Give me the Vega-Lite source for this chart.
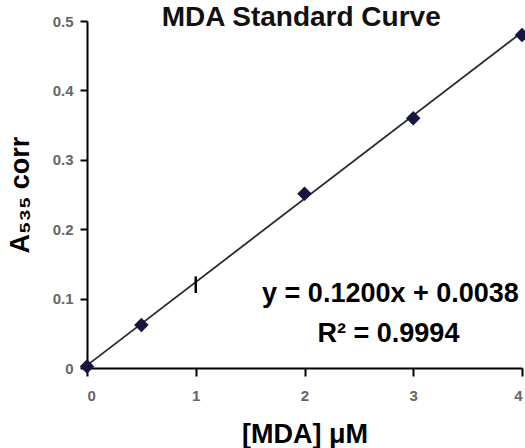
{
  "$schema": "https://vega.github.io/schema/vega-lite/v6.json",
  "autosize": "none",
  "width": 435,
  "height": 347,
  "padding": {"left": 87, "top": 21, "right": 3, "bottom": 80},
  "background": "white",
  "config": {
    "view": {"stroke": null},
    "font": "Liberation Sans",
    "axis": {
      "grid": false,
      "domainColor": "#000000",
      "domainWidth": 2,
      "tickColor": "#000000",
      "tickWidth": 2,
      "labelFont": "Liberation Sans",
      "labelFontWeight": "bold",
      "labelColor": "#666666",
      "labelFontSize": 15,
      "titleFont": "Liberation Sans",
      "titleFontWeight": "bold",
      "titleColor": "#000000",
      "titleFontSize": 27
    }
  },
  "datasets": {
    "standards": [
      {"conc": 0, "abs": 0.002},
      {"conc": 0.5, "abs": 0.062},
      {"conc": 2, "abs": 0.251},
      {"conc": 3, "abs": 0.36},
      {"conc": 4, "abs": 0.48}
    ],
    "fit": [
      {"conc": 0, "abs": 0.0038},
      {"conc": 4, "abs": 0.4838}
    ],
    "errbar": [
      {"conc": 1, "lo": 0.108, "hi": 0.132}
    ]
  },
  "layer": [
    {
      "data": {"name": "fit"},
      "mark": {"type": "line", "color": "#2a2a2a", "strokeWidth": 1.8},
      "encoding": {
        "x": {
          "field": "conc",
          "type": "quantitative",
          "scale": {"domain": [0, 4], "nice": false},
          "axis": {
            "values": [0, 1, 2, 3, 4],
            "format": "~g",
            "tickSize": 8,
            "labelPadding": 12,
            "title": "[MDA] μM",
            "titlePadding": 18
          }
        },
        "y": {
          "field": "abs",
          "type": "quantitative",
          "scale": {"domain": [0, 0.5], "nice": false},
          "axis": {
            "values": [0, 0.1, 0.2, 0.3, 0.4, 0.5],
            "format": "~g",
            "tickSize": 7,
            "labelPadding": 7,
            "title": "A₅₃₅ corr",
            "titlePadding": 18
          }
        }
      }
    },
    {
      "data": {"name": "errbar"},
      "mark": {"type": "rule", "color": "#000000", "strokeWidth": 2.5},
      "encoding": {
        "x": {"field": "conc", "type": "quantitative"},
        "y": {"field": "lo", "type": "quantitative"},
        "y2": {"field": "hi"}
      }
    },
    {
      "data": {"name": "standards"},
      "mark": {"type": "point", "shape": "diamond", "filled": true, "size": 210, "color": "#15153d", "opacity": 1},
      "encoding": {
        "x": {"field": "conc", "type": "quantitative"},
        "y": {"field": "abs", "type": "quantitative"}
      }
    },
    {
      "data": {"values": [{}]},
      "mark": {"type": "text", "text": "MDA Standard Curve", "font": "Liberation Sans", "fontWeight": "bold", "fontSize": 28, "align": "center", "baseline": "alphabetic", "color": "#111111"},
      "encoding": {
        "x": {"datum": 1.97},
        "y": {"datum": 0.4925}
      }
    },
    {
      "data": {"values": [{}]},
      "mark": {"type": "text", "text": "y = 0.1200x + 0.0038", "font": "Liberation Sans", "fontWeight": "bold", "fontSize": 27, "align": "left", "baseline": "alphabetic", "color": "#000000"},
      "encoding": {
        "x": {"datum": 1.61},
        "y": {"datum": 0.095}
      }
    },
    {
      "data": {"values": [{}]},
      "mark": {"type": "text", "text": "R² = 0.9994", "font": "Liberation Sans", "fontWeight": "bold", "fontSize": 27, "align": "left", "baseline": "alphabetic", "color": "#000000"},
      "encoding": {
        "x": {"datum": 2.12},
        "y": {"datum": 0.038}
      }
    }
  ]
}
